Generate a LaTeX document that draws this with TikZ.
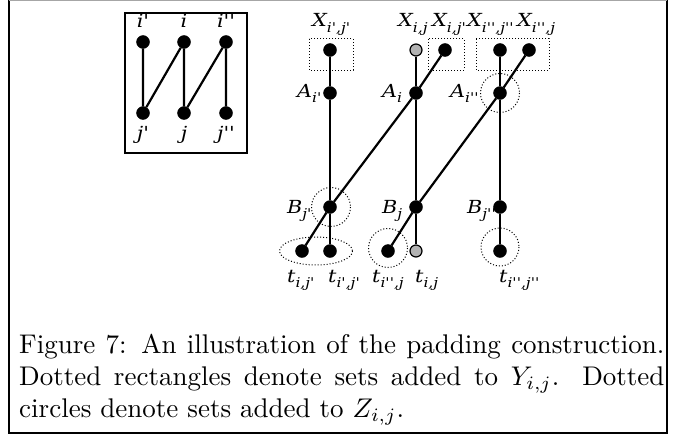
\documentclass[tikz,border=0pt]{standalone}
\usepackage{fontspec}
\newfontfamily\labfont{DejaVu Serif}[FakeStretch=1.15]
\newcommand\lbl[2]{{\labfont\itshape #1\raisebox{-5.5pt}{\fontsize{13.5}{13.5}\selectfont #2}}}
\begin{document}
\begin{tikzpicture}[x=1pt,y=-1pt,
  dot/.style={circle,fill=black,draw=black,inner sep=0pt,minimum size=13pt},
  gdot/.style={circle,fill=black!30,draw=black,line width=1.2pt,inner sep=0pt,minimum size=12pt},
  edge/.style={line width=2.2pt},
  lab/.style={inner sep=0pt,font=\labfont\itshape\fontsize{18}{18}\selectfont},
  dotted box/.style={draw,dotted,line width=1pt},
]
\useasboundingbox (0,0) rectangle (676,436);
% outer frame
\draw[line width=1.2pt] (9,0) -- (9,433) -- (667,433) -- (667,0);
\draw[black!35,line width=1.2pt] (9,0.6) -- (667,0.6);

% small box
\draw[line width=1.2pt] (125,13) rectangle (247,153);
\node[dot] (si1) at (143,42) {};
\node[dot] (si) at (184,42) {};
\node[dot] (si2) at (226,42) {};
\node[dot] (sj1) at (143,113) {};
\node[dot] (sj) at (184,113) {};
\node[dot] (sj2) at (226,113) {};
\draw[edge] (si1) -- (sj1) -- (si) -- (sj) -- (si2) -- (sj2);
\node[lab,anchor=base] (lsi1) at (143,28) {i'};
\node[lab,anchor=base] (lsi) at (184,28) {i};
\node[lab,anchor=base] (lsi2) at (226,28) {i''};
\node[lab,anchor=base] (lsj1) at (143,139) {j'};
\node[lab,anchor=base] (lsj) at (184,139) {j};
\node[lab,anchor=base] (lsj2) at (226,139) {j''};

% dotted sets
\draw[dotted box] (309,39) rectangle (353,70);
\draw[dotted box] (428,39) rectangle (464,70);
\draw[dotted box] (476,39) rectangle (549,70);
\draw[dotted box] (500,93) circle (19.5);
\draw[dotted box] (331,207) circle (19.5);
\draw[dotted box] (316,251) ellipse (36.5 and 14);
\draw[dotted box] (388,248) circle (19.5);
\draw[dotted box] (500,247) circle (19);

% nodes
\node[dot] (X11) at (330,50) {};
\node[gdot] (Xij) at (416,50) {};
\node[dot] (Xij1) at (445,50) {};
\node[dot] (X22) at (500,50) {};
\node[dot] (X2j) at (529,50) {};
\node[dot] (A1) at (330,93) {};
\node[dot] (Ai) at (416,93) {};
\node[dot] (A2) at (500,93) {};
\node[dot] (B1) at (330,207) {};
\node[dot] (Bj) at (416,207) {};
\node[dot] (B2) at (500,207) {};
\node[dot] (ti1) at (302,251) {};
\node[dot] (t11) at (330,251) {};
\node[dot] (t2j) at (388,251) {};
\node[gdot] (tij) at (416,251) {};
\node[dot] (t22) at (500,251) {};

% edges
\draw[edge] (X11) -- (A1) -- (B1) -- (t11);
\draw[edge] (Xij) -- (Ai) -- (Bj) -- (tij);
\draw[edge] (X22) -- (A2) -- (B2) -- (t22);
\draw[edge] (Xij1) -- (Ai) -- (B1) -- (ti1);
\draw[edge] (X2j) -- (A2) -- (Bj) -- (t2j);

% labels
\node[lab,anchor=base west] (lX11) at (312,27) {\lbl{X}{i',j'}};
\node[lab,anchor=base west] (lXij) at (398,27) {\lbl{X}{i,j}};
\node[lab,anchor=base west] (lXij1) at (432,27) {\lbl{X}{i,j'}};
\node[lab,anchor=base west] (lX22) at (467,27) {\lbl{X}{i'',j''}};
\node[lab,anchor=base west] (lX2j) at (517,27) {\lbl{X}{i'',j}};
\node[lab,anchor=base west] (lA1) at (297,97) {\lbl{A}{i'}};
\node[lab,anchor=base west] (lAi) at (382,97) {\lbl{A}{i}};
\node[lab,anchor=base west] (lA2) at (450,97) {\lbl{A}{i''}};
\node[lab,anchor=base west] (lB1) at (287,213) {\lbl{B}{j'}};
\node[lab,anchor=base west] (lBj) at (382,213) {\lbl{B}{j}};
\node[lab,anchor=base west] (lB2) at (467,213) {\lbl{B}{j''}};
\node[lab,anchor=base west] (lti1) at (287,282) {\lbl{t}{i,j'}};
\node[lab,anchor=base west] (lt11) at (328,282) {\lbl{t}{i',j'}};
\node[lab,anchor=base west] (lt2j) at (372,282) {\lbl{t}{i'',j}};
\node[lab,anchor=base west] (ltij) at (415,282) {\lbl{t}{i,j}};
\node[lab,anchor=base west] (lt22) at (499,282) {\lbl{t}{i'',j''}};

% caption
\node[anchor=base west,inner sep=0pt] (cap) at (19,353)
  {\scalebox{2.7}{\parbox[t]{239pt}{\fontsize{10}{12}\selectfont
   Figure 7: An illustration of the padding construction.
   Dotted rectangles denote sets added to $Y_{i,j}$.  Dotted circles denote sets added to $Z_{i,j}$.}}};
\end{tikzpicture}
\end{document}
